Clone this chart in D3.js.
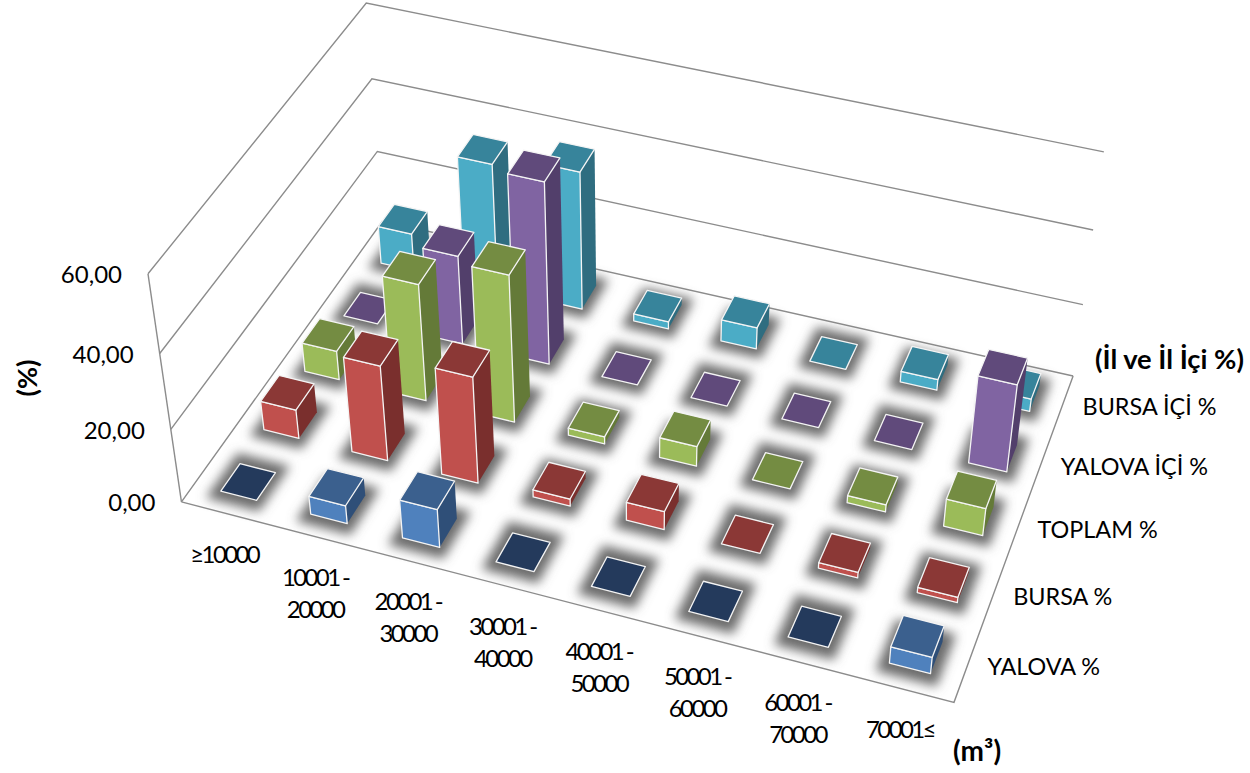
<!DOCTYPE html>
<html>
<head>
<meta charset="utf-8">
<script src="https://cdn.jsdelivr.net/npm/d3@7/dist/d3.min.js"></script>
<style>
html,body{margin:0;padding:0;background:#fff;}
text{font-family:Lato,"Open Sans",sans-serif;fill:#000;}
</style>
</head>
<body>
<svg id="chart" width="1250" height="773"></svg>
<script>
// Chart data
const categories = ["≥10000","10001 -|20000","20001 -|30000","30001 -|40000","40001 -|50000","50001 -|60000","60001 -|70000","70001≤"];
const seriesNames = ["YALOVA %","BURSA %","TOPLAM %","YALOVA İÇİ %","BURSA İÇİ %"];
const yalova    = [0, 5, 10.5, 0, 0, 0, 0, 4.5];
const bursa     = [8, 26, 29, 2, 5, 0, 1.5, 1.5];
const toplam    = [8, 32, 40, 2, 5.5, 0, 2, 7.5];
const yalovaIci = [0, 24.5, 49.5, 0, 0, 0, 0, 24];
const bursaIci  = [10.5, 35, 38, 2, 6, 0, 3, 3.5];
const valueTicks = [0, 20, 40, 60];
const seriesValues = [yalova, bursa, toplam, yalovaIci, bursaIci];

// Face colours per series: front, top, side, and the tile colour of a zero-height bar
const faceColors = [
  {front:"#4f81bd", top:"#3b608e", side:"#2f4f78", flat:"#243a5c"},
  {front:"#c0504d", top:"#8b3836", side:"#7a2f2d", flat:"#8b3836"},
  {front:"#9bbb59", top:"#748c42", side:"#647a38", flat:"#748c42"},
  {front:"#8064a2", top:"#604a7b", side:"#523f6b", flat:"#604a7b"},
  {front:"#4bacc6", top:"#37849b", side:"#2f6d80", flat:"#37849b"}
];

// Camera calibration: chart-box corners (u, v, w) and where they land on the page
const calibration = [
  [0,0,0,181,502],[1,0,0,954,703],[1,1,0,1073,375],[0,1,0,383,224],
  [0,0,1,148,275],[0,1,1,366,3],[1,1,1,1104,153],
  [0,1,1/3,377,150],[0,1,2/3,372,78],[1,1,1/3,1083,304],[1,1,2/3,1093,230],
  [0,0,1/3,171,428],[0,0,2/3,160,353]
];

// Least-squares fit of a projective camera (11 unknowns)
function fitCamera(pts){
  const n = 11, A = d3.range(n).map(()=>new Array(n+1).fill(0));
  const add = (row,b)=>{ for(let i=0;i<n;i++){ for(let j=0;j<n;j++) A[i][j]+=row[i]*row[j]; A[i][n]+=row[i]*b; } };
  pts.forEach(([u,v,w,X,Y])=>{
    const x=X/1000,y=Y/1000;
    add([u,v,w,1,0,0,0,0,-x*u,-x*v,-x*w],x);
    add([0,0,0,0,u,v,w,1,-y*u,-y*v,-y*w],y);
  });
  for(let c=0;c<n;c++){
    let p=c; for(let r=c+1;r<n;r++) if(Math.abs(A[r][c])>Math.abs(A[p][c])) p=r;
    [A[c],A[p]]=[A[p],A[c]];
    for(let r=0;r<n;r++){ if(r===c) continue; const f=A[r][c]/A[c][c]; for(let k=c;k<=n;k++) A[r][k]-=f*A[c][k]; }
  }
  return A.map((r,i)=>r[n]/r[i]);
}
const cam = fitCamera(calibration);
function project(u,v,w){
  const d = cam[8]*u+cam[9]*v+cam[10]*w+1;
  return [1000*(cam[0]*u+cam[1]*v+cam[2]*w+cam[3])/d, 1000*(cam[4]*u+cam[5]*v+cam[6]*w+cam[7])/d];
}

// Scales into the unit chart box
const uBand = d3.scaleBand().domain(d3.range(categories.length)).range([0,1]).paddingInner(0.6).paddingOuter(0.3);
const vBand = d3.scaleBand().domain(d3.range(seriesNames.length)).range([0,1]).paddingInner(0.56).paddingOuter(0.28);
const wScale = d3.scaleLinear().domain([0,60]).range([0,1]);

const svg = d3.select("#chart");
const line = d3.line();
const poly = pts => line(pts)+"Z";

const defs = svg.append("defs");
defs.append("filter").attr("id","floorShadow").attr("x","-10%").attr("y","-10%").attr("width","120%").attr("height","120%")
  .append("feGaussianBlur").attr("stdDeviation",5.5);

// Walls and floor
const gridColor = "#8c8c8c";
const grid = svg.append("g").attr("fill","none").attr("stroke",gridColor).attr("stroke-width",1.4);
valueTicks.forEach(t=>{
  const w = wScale(t);
  grid.append("path").attr("d",line([project(0,0,w),project(0,1,w),project(1,1,w)]));
});
grid.append("path").attr("d",line([project(0,0,0),project(1,0,0),project(1,1,0)]));
grid.append("path").attr("d",line([project(0,0,0),project(0,0,1)]));

// Soft shadows lie on the floor below all the bars
const shadows = svg.append("g").attr("filter","url(#floorShadow)").attr("fill","#6c6c6c");
const barLayer = svg.append("g");

const rows = d3.range(seriesNames.length).reverse();
rows.forEach(s=>{
  categories.forEach((c,i)=>{
    const val = seriesValues[s][i];
    const u0=uBand(i), u1=u0+uBand.bandwidth(), v0=vBand(s), v1=v0+vBand.bandwidth(), w=wScale(val);
    const padU=0.012, padV=0.028;
    shadows.append("path").attr("d",poly([
      project(u0-padU,v0-padV,0),project(u1+padU,v0-padV,0),
      project(u1+padU,v1+padV,0),project(u0-padU,v1+padV,0)]));
    const col = faceColors[s];
    const g = barLayer.append("g").attr("stroke","#f4f4f4").attr("stroke-width",1.3).attr("stroke-linejoin","round");
    if(val>0){
      g.append("path").attr("fill",col.side).attr("d",poly([project(u1,v0,0),project(u1,v1,0),project(u1,v1,w),project(u1,v0,w)]))
        .attr("stroke","none");
      g.append("path").attr("fill",col.front).attr("d",poly([project(u0,v0,0),project(u1,v0,0),project(u1,v0,w),project(u0,v0,w)]));
      g.append("path").attr("fill",col.top).attr("d",poly([project(u0,v0,w),project(u1,v0,w),project(u1,v1,w),project(u0,v1,w)]));
    } else {
      g.append("path").attr("fill",col.flat).attr("d",poly([project(u0,v0,0),project(u1,v0,0),project(u1,v1,0),project(u0,v1,0)]));
    }
  });
});

// Value axis
const fmt = t=>t.toFixed(2).replace(".",",");
svg.append("g").selectAll("text").data(valueTicks).join("text")
  .attr("x",d=>project(0,0,wScale(d))[0]-26)
  .attr("y",d=>project(0,0,wScale(d))[1]+3)
  .attr("text-anchor","end").attr("dominant-baseline","middle")
  .attr("font-size",24).text(fmt);

// Category labels under the front edge
const catG = svg.append("g").attr("font-size",24).attr("letter-spacing",-2.6).attr("text-anchor","middle");
categories.forEach((c,i)=>{
  const [x,y]=project(uBand(i)+uBand.bandwidth()/2,0,0);
  c.split("|").forEach((ln,k)=>{
    catG.append("text").attr("x",x-2).attr("y",y+43+k*32).attr("dominant-baseline","middle").text(ln);
  });
});

// Series labels beside the right edge
svg.append("g").selectAll("text").data(seriesNames).join("text")
  .attr("x",(d,s)=>project(1,vBand(s)+vBand.bandwidth()/2,0)[0]+20)
  .attr("y",(d,s)=>project(1,vBand(s)+vBand.bandwidth()/2,0)[1]+4)
  .attr("dominant-baseline","middle").attr("font-size",23.4).text(d=>d);

// Axis titles
const titleStyle = (sel,size)=>sel.attr("font-size",size).attr("font-weight",700).attr("dominant-baseline","middle");
svg.append("text").attr("x",1095).attr("y",362).call(titleStyle,27.3).text("(İl ve İl İçi %)");
svg.append("text").attr("x",953).attr("y",754).call(titleStyle,28).text("(m³)");
svg.append("text").attr("transform","translate(30,378) rotate(-90)").attr("text-anchor","middle").call(titleStyle,27).text("(%)");
</script>
</body>
</html>
